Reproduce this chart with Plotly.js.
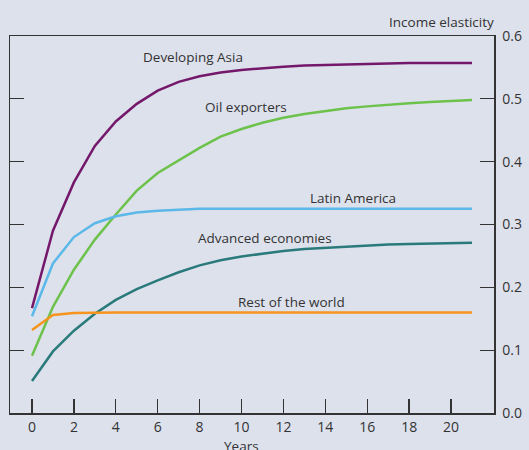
<!DOCTYPE html>
<html>
<head>
<meta charset="utf-8">
<script src="https://cdn.plot.ly/plotly-3.0.1.min.js"></script>
<style>html,body{margin:0;padding:0;background:#dde1ec;overflow:hidden;}#chart{width:529px;height:450px;}</style>
</head>
<body>
<div id="chart"></div>
<script>
const years = [0,1,2,3,4,5,6,7,8,9,10,11,12,13,14,15,16,17,18,19,20,21];
const developingAsia = [0.167,0.290,0.367,0.425,0.464,0.492,0.513,0.527,0.536,0.542,0.546,0.549,0.551,0.553,0.554,0.555,0.556,0.556,0.557,0.557,0.557,0.557];
const oilExporters = [0.091,0.169,0.228,0.276,0.316,0.354,0.382,0.402,0.422,0.440,0.452,0.462,0.470,0.476,0.481,0.485,0.488,0.491,0.493,0.495,0.497,0.498];
const latinAmerica = [0.154,0.238,0.280,0.302,0.313,0.319,0.322,0.324,0.325,0.325,0.325,0.325,0.325,0.325,0.325,0.325,0.325,0.325,0.325,0.325,0.325,0.325];
const advancedEconomies = [0.051,0.098,0.131,0.158,0.180,0.197,0.211,0.224,0.235,0.243,0.249,0.254,0.258,0.261,0.263,0.265,0.267,0.268,0.269,0.270,0.271,0.271];
const restOfWorld = [0.132,0.156,0.159,0.160,0.160,0.160,0.160,0.160,0.160,0.160,0.160,0.160,0.160,0.160,0.160,0.160,0.160,0.160,0.160,0.160,0.160,0.160];
const seriesNames = ["Developing Asia","Oil exporters","Latin America","Advanced economies","Rest of the world"];
const xTicks = [0,2,4,6,8,10,12,14,16,18,20];
const yTicks = [0,0.1,0.2,0.3,0.4,0.5,0.6];
const xTitle = "Years";
const yTitle = "Income elasticity";

const colors = ["#74186b","#6cc24a","#5bb8e8","#2a7a7b","#f7941d"];
const allY = [developingAsia, oilExporters, latinAmerica, advancedEconomies, restOfWorld];
const data = allY.map((ys,i)=>({x:years,y:ys,type:'scatter',mode:'lines',name:seriesNames[i],line:{color:colors[i],width:2.5},hoverinfo:'skip'}));

const labelPos = [[7.7,0.567],[10.2,0.487],[15.3,0.342],[11.1,0.279],[12.4,0.177]];
const font = {family:'"Open Sans", "Noto Sans", sans-serif', size:13.5, color:'#333333'};
const tickFont = {family:'"Open Sans", "Noto Sans", sans-serif', size:14, color:'#333333'};
const annotations = seriesNames.map((n,i)=>({x:labelPos[i][0],y:labelPos[i][1],xref:'x',yref:'y',text:n,showarrow:false,font:font,xanchor:'center',yanchor:'middle'}));
annotations.push({x:1.004,y:1.037,xref:'paper',yref:'paper',text:yTitle,showarrow:false,font:font,xanchor:'right',yanchor:'middle'});
annotations.push({x:10,y:-0.087,xref:'x',yref:'paper',text:xTitle,showarrow:false,font:font,xanchor:'center',yanchor:'middle'});

const layout = {
  width:529,height:450,
  paper_bgcolor:'#dde1ec',plot_bgcolor:'#dde1ec',
  margin:{l:10,r:35,t:36,b:37},
  showlegend:false,
  font:font,
  xaxis:{range:[-1.05,22.05],tickvals:xTicks,ticks:'inside',ticklen:14,tickwidth:1.3,tickcolor:'#333',
         showline:true,linecolor:'#333',linewidth:1.5,mirror:true,showgrid:false,zeroline:false,
         tickfont:tickFont,ticklabelstandoff:1},
  yaxis:{range:[0,0.6],side:'right',tickvals:yTicks,tickformat:'.1f',ticks:'inside',ticklen:14,tickwidth:1.3,tickcolor:'#333',
         showline:true,linecolor:'#333',linewidth:1.5,mirror:'ticks',showgrid:false,zeroline:false,tickfont:tickFont,ticklabelstandoff:4},
  annotations:annotations
};
Plotly.newPlot('chart',data,layout,{displayModeBar:false,staticPlot:true});
</script>
</body>
</html>
